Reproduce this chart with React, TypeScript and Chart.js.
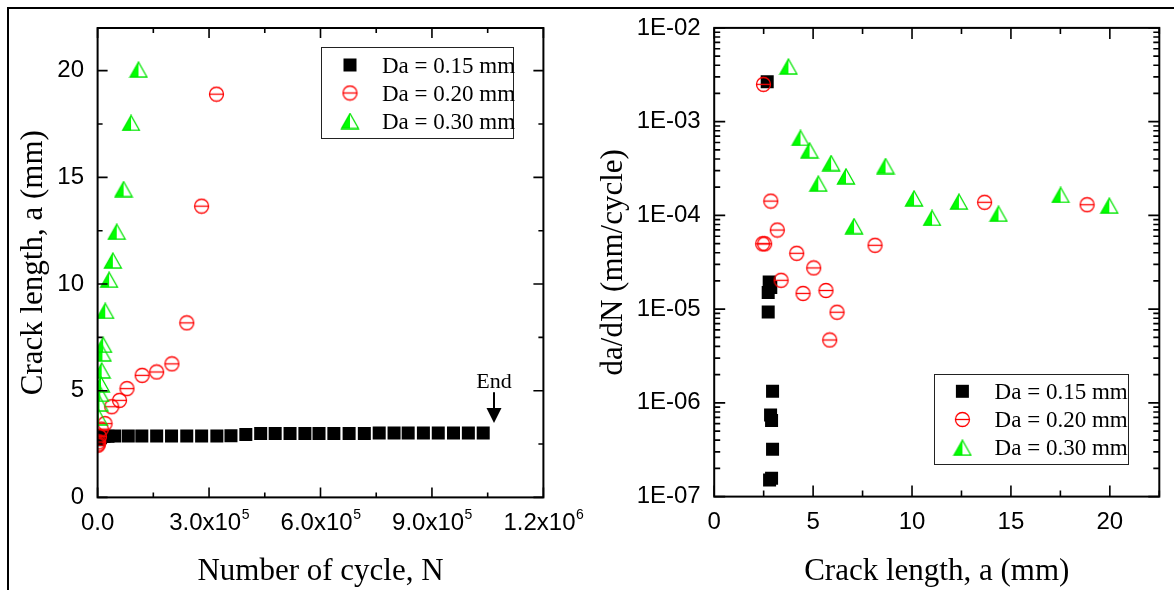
import React, { useEffect, useRef } from 'react';
import { Chart, registerables } from 'chart.js';

Chart.register(...registerables);

// ---------- Left panel: crack length a (mm) vs number of cycles N ----------
const leftCyclesDa015 = [2000, 8000, 17000, 28000, 46000, 82600, 119000, 159000, 199000, 240000, 280000, 321000, 359000, 399000, 439000, 478000, 518000, 558000, 596000, 636000, 677000, 718000, 758000, 798000, 836000, 877000, 917000, 958000, 998000, 1038000];
const leftCrackDa015 = [2.7, 2.8, 2.86, 2.87, 2.88, 2.88, 2.88, 2.88, 2.88, 2.88, 2.88, 2.88, 2.89, 2.95, 3.0, 3.0, 3.0, 3.0, 3.0, 3.0, 3.0, 3.0, 3.02, 3.02, 3.02, 3.02, 3.02, 3.02, 3.02, 3.02];

const leftCyclesDa020 = [1000, 2000, 3000, 5000, 10000, 20000, 38000, 59000, 79000, 120000, 159000, 200000, 240000, 280000, 320000];
const leftCrackDa020 = [2.45, 2.5, 2.6, 2.85, 3.2, 3.46, 4.25, 4.55, 5.1, 5.72, 5.88, 6.26, 8.18, 13.65, 18.9];

const leftCyclesDa030 = [3000, 5000, 7000, 9000, 11000, 13000, 15000, 20500, 31000, 41000, 51500, 70000, 90000, 110000];
const leftCrackDa030 = [3.75, 4.4, 4.85, 5.3, 5.95, 6.75, 7.15, 8.74, 10.2, 11.1, 12.45, 14.45, 17.55, 20.05];

// ---------- Right panel: da/dN (mm/cycle) vs crack length a (mm) ----------
const rightCrackDa015 = [2.68, 2.78, 2.86, 2.73, 2.73, 2.95, 2.85, 2.9, 2.95, 2.9, 2.8];
const rightRateDa015 = [2.67e-3, 1.95e-5, 1.7e-5, 1.5e-5, 9.3e-6, 1.33e-6, 7.4e-7, 6.5e-7, 3.2e-7, 1.57e-7, 1.5e-7];

const rightCrackDa020 = [2.49, 2.55, 2.45, 2.86, 3.19, 3.38, 4.17, 4.49, 5.03, 5.65, 5.84, 6.21, 8.13, 13.67, 18.85];
const rightRateDa020 = [2.5e-3, 4.98e-5, 4.98e-5, 1.42e-4, 6.98e-5, 2.03e-5, 3.94e-5, 1.47e-5, 2.75e-5, 1.58e-5, 4.69e-6, 9.27e-6, 4.8e-5, 1.38e-4, 1.3e-4];

const rightCrackDa030 = [3.75, 4.36, 4.82, 5.26, 5.91, 6.66, 7.07, 8.66, 10.1, 11.01, 12.37, 14.37, 17.51, 19.97];
const rightRateDa030 = [3.87e-3, 6.7e-4, 4.94e-4, 2.18e-4, 3.61e-4, 2.61e-4, 7.67e-5, 3.36e-4, 1.52e-4, 9.38e-5, 1.4e-4, 1.04e-4, 1.65e-4, 1.27e-4];

const seriesLabels = ['Da = 0.15 mm', 'Da = 0.20 mm', 'Da = 0.30 mm'];
const leftXTickBase = ['0.0', '3.0x10', '6.0x10', '9.0x10', '1.2x10'];
const leftXTickExp = ['', '5', '5', '5', '6'];
const leftYTickLabels = ['0', '5', '10', '15', '20'];
const rightXTickLabels = ['0', '5', '10', '15', '20'];
const endLabel = 'End';
const endCycles = 1.067e6;

const SANS = '"Liberation Sans", Arial, sans-serif';
const SERIF = '"Liberation Serif", "Times New Roman", serif';

function makeCircleStyle(): HTMLCanvasElement {
  const c = document.createElement('canvas');
  c.width = 17;
  c.height = 17;
  const g = c.getContext('2d')!;
  g.strokeStyle = '#ff0000';
  g.lineWidth = 1.3;
  g.beginPath();
  g.arc(8.5, 8.5, 7, 0, Math.PI * 2);
  g.stroke();
  g.beginPath();
  g.moveTo(1.5, 8.5);
  g.lineTo(15.5, 8.5);
  g.stroke();
  return c;
}

function makeTriangleStyle(): HTMLCanvasElement {
  const c = document.createElement('canvas');
  c.width = 20;
  c.height = 17;
  const g = c.getContext('2d')!;
  g.fillStyle = '#00ff00';
  g.beginPath();
  g.moveTo(10, 1);
  g.lineTo(1.5, 16);
  g.lineTo(10, 16);
  g.closePath();
  g.fill();
  g.strokeStyle = '#00e600';
  g.lineWidth = 1.3;
  g.beginPath();
  g.moveTo(10, 1);
  g.lineTo(1.5, 16);
  g.lineTo(18.5, 16);
  g.closePath();
  g.stroke();
  return c;
}

function isMultiple(v: number, step: number) {
  const k = Math.round(v / step);
  return Math.abs(v - k * step) < step * 1e-6;
}

function tickList(scale: any, majorStep: number) {
  if (scale.type === 'logarithmic') {
    const out: { value: number; major: boolean }[] = [];
    const lo = Math.floor(Math.log10(scale.min) + 1e-9);
    const hi = Math.ceil(Math.log10(scale.max) - 1e-9);
    for (let e = lo; e <= hi; e++) {
      for (let k = 1; k <= 9; k++) {
        const v = k * Math.pow(10, e);
        if (v >= scale.min * (1 - 1e-9) && v <= scale.max * (1 + 1e-9)) out.push({ value: v, major: k === 1 });
      }
    }
    return out;
  }
  return scale.ticks.map((t: any) => ({ value: t.value, major: isMultiple(t.value, majorStep) }));
}

const frameTicksPlugin = {
  id: 'frameTicks',
  afterDatasetsDraw(chart: any, _args: any, opts: any) {
    const { ctx, chartArea: a } = chart;
    const xs = chart.scales.x;
    const ys = chart.scales.y;
    ctx.save();
    ctx.strokeStyle = '#000';
    ctx.lineWidth = 1.6;
    ctx.beginPath();
    tickList(xs, opts.xMajor).forEach((t) => {
      const px = xs.getPixelForValue(t.value);
      const len = t.major ? opts.major : opts.minor;
      ctx.moveTo(px, a.bottom);
      ctx.lineTo(px, a.bottom - len);
      ctx.moveTo(px, a.top);
      ctx.lineTo(px, a.top + len);
    });
    tickList(ys, opts.yMajor).forEach((t) => {
      const py = ys.getPixelForValue(t.value);
      const len = t.major ? opts.major : opts.minor;
      ctx.moveTo(a.left, py);
      ctx.lineTo(a.left + len, py);
      ctx.moveTo(a.right, py);
      ctx.lineTo(a.right - len, py);
    });
    ctx.stroke();
    ctx.lineWidth = 2;
    ctx.strokeRect(a.left, a.top, a.right - a.left, a.bottom - a.top);
    ctx.restore();
  },
};

const legendBoxPlugin = {
  id: 'legendBox',
  afterDraw(chart: any, _args: any, opts: any) {
    const { ctx } = chart;
    const [bx, by, bw, bh] = opts.box;
    ctx.save();
    ctx.strokeStyle = '#222';
    ctx.lineWidth = 1;
    ctx.strokeRect(bx + 0.5, by + 0.5, bw, bh);
    ctx.font = `23px ${SERIF}`;
    ctx.textBaseline = 'alphabetic';
    ctx.textAlign = 'left';
    chart.data.datasets.forEach((ds: any, i: number) => {
      const y = opts.rows[i];
      const style = ds.pointStyle;
      if (style && typeof style === 'object') {
        ctx.drawImage(style, opts.markerX - style.width / 2, y - style.height / 2);
      } else {
        ctx.fillStyle = '#000';
        ctx.fillRect(opts.markerX - 6.5, y - 6.5, 13, 13);
      }
      ctx.fillStyle = '#000';
      ctx.fillText(ds.label, opts.textX, y + 7.5);
    });
    ctx.restore();
  },
};

const sciTicksPlugin = {
  id: 'sciTicks',
  afterDraw(chart: any, _args: any, opts: any) {
    if (!opts || !opts.enabled) return;
    const { ctx } = chart;
    const xs = chart.scales.x;
    ctx.save();
    ctx.fillStyle = '#000';
    ctx.textAlign = 'left';
    ctx.textBaseline = 'alphabetic';
    opts.base.forEach((b: string, i: number) => {
      const px = xs.getPixelForValue(i * opts.step);
      ctx.font = `24px ${SANS}`;
      const wb = ctx.measureText(b).width;
      ctx.font = `14px ${SANS}`;
      const we = opts.exp[i] ? ctx.measureText(opts.exp[i]).width : 0;
      const x0 = px - (wb + we) / 2;
      ctx.font = `24px ${SANS}`;
      ctx.fillText(b, x0, opts.baseline);
      if (opts.exp[i]) {
        ctx.font = `14px ${SANS}`;
        ctx.fillText(opts.exp[i], x0 + wb + 0.5, opts.baseline - 11);
      }
    });
    ctx.restore();
  },
};

const endArrowPlugin = {
  id: 'endArrow',
  afterDraw(chart: any, _args: any, opts: any) {
    if (!opts || !opts.enabled) return;
    const { ctx } = chart;
    const xs = chart.scales.x;
    const ys = chart.scales.y;
    const px = xs.getPixelForValue(opts.at);
    ctx.save();
    ctx.fillStyle = '#000';
    ctx.strokeStyle = '#000';
    ctx.font = `22px ${SERIF}`;
    ctx.textAlign = 'center';
    ctx.textBaseline = 'alphabetic';
    ctx.fillText(opts.text, px, ys.getPixelForValue(opts.textA));
    ctx.lineWidth = 2;
    ctx.beginPath();
    ctx.moveTo(px, ys.getPixelForValue(opts.lineTopA));
    ctx.lineTo(px, ys.getPixelForValue(opts.headBaseA) + 1);
    ctx.stroke();
    const hb = ys.getPixelForValue(opts.headBaseA);
    const tip = ys.getPixelForValue(opts.tipA);
    ctx.beginPath();
    ctx.moveTo(px - 7.5, hb);
    ctx.lineTo(px + 7.5, hb);
    ctx.lineTo(px, tip);
    ctx.closePath();
    ctx.fill();
    ctx.restore();
  },
};

function toPoints(xs: number[], ys: number[]) {
  return xs.map((x, i) => ({ x, y: ys[i] }));
}

function makeDatasets(circle: HTMLCanvasElement, tri: HTMLCanvasElement, xs: number[][], ys: number[][]) {
  return [
    {
      label: seriesLabels[0],
      data: toPoints(xs[0], ys[0]),
      pointStyle: 'rect',
      pointRadius: 9.2,
      pointBorderWidth: 0,
      backgroundColor: '#000',
      borderColor: '#000',
      showLine: false,
      order: 3,
    },
    {
      label: seriesLabels[1],
      data: toPoints(xs[1], ys[1]),
      pointStyle: circle,
      pointRadius: 7,
      backgroundColor: '#ff0000',
      borderColor: '#ff0000',
      showLine: false,
      order: 2,
    },
    {
      label: seriesLabels[2],
      data: toPoints(xs[2], ys[2]),
      pointStyle: tri,
      pointRadius: 7,
      backgroundColor: '#00ff00',
      borderColor: '#00ff00',
      showLine: false,
      order: 1,
    },
  ];
}

const tickFont = { family: SANS, size: 24 };
const titleFont = { family: SERIF, size: 31 };

export default function App() {
  const leftRef = useRef<HTMLCanvasElement>(null);
  const rightRef = useRef<HTMLCanvasElement>(null);

  useEffect(() => {
    const circle = makeCircleStyle();
    const tri = makeTriangleStyle();

    const left = new Chart(leftRef.current!, {
      type: 'scatter',
      data: {
        datasets: makeDatasets(
          circle,
          tri,
          [leftCyclesDa015, leftCyclesDa020, leftCyclesDa030],
          [leftCrackDa015, leftCrackDa020, leftCrackDa030]
        ) as any,
      },
      plugins: [frameTicksPlugin, legendBoxPlugin, sciTicksPlugin, endArrowPlugin],
      options: {
        responsive: false,
        animation: false,
        events: [],
        layout: { padding: { left: 8, right: 46.6, top: 27.1, bottom: 0 } },
        scales: {
          x: {
            type: 'linear',
            min: 0,
            max: 1.2e6,
            afterFit: (s: any) => {
              s.height = 92.6;
            },
            grid: { display: false, drawTicks: false },
            border: { display: false },
            ticks: {
              stepSize: 1.5e5,
              autoSkip: false,
              maxRotation: 0,
              minRotation: 0,
              padding: 11,
              color: '#000',
              font: tickFont,
              callback: () => '',
            },
            title: { display: true, text: 'Number of cycle, N', color: '#000', font: titleFont, padding: { top: 0, bottom: 0 } },
          },
          y: {
            type: 'linear',
            min: 0,
            max: 22,
            afterFit: (s: any) => {
              s.width = 89.6;
            },
            grid: { display: false, drawTicks: false },
            border: { display: false },
            ticks: {
              stepSize: 2.5,
              includeBounds: false,
              autoSkip: false,
              padding: 13.6,
              color: '#000',
              font: tickFont,
              callback: (value: any) => {
                const v = Number(value);
                return isMultiple(v, 5) ? leftYTickLabels[Math.round(v / 5)] : '';
              },
            },
            title: { display: true, text: 'Crack length, a (mm)', color: '#000', font: titleFont, padding: { top: 7, bottom: 0 } },
          },
        },
        plugins: {
          legend: { display: false },
          tooltip: { enabled: false },
          frameTicks: { major: 10, minor: 5, xMajor: 3e5, yMajor: 5 },
          legendBox: { box: [321, 47, 192, 91], markerX: 350, textX: 382, rows: [65, 93, 121] },
          sciTicks: { enabled: true, base: leftXTickBase, exp: leftXTickExp, step: 3e5, baseline: 530 },
          endArrow: { enabled: true, at: endCycles, text: endLabel, textA: 5.11, lineTopA: 4.93, headBaseA: 4.19, tipA: 3.49 },
        } as any,
      },
    } as any);

    const right = new Chart(rightRef.current!, {
      type: 'scatter',
      data: {
        datasets: makeDatasets(
          circle,
          tri,
          [rightCrackDa015, rightCrackDa020, rightCrackDa030],
          [rightRateDa015, rightRateDa020, rightRateDa030]
        ) as any,
      },
      plugins: [frameTicksPlugin, legendBoxPlugin],
      options: {
        responsive: false,
        animation: false,
        events: [],
        layout: { padding: { left: 2, right: 14.7, top: 27.1, bottom: 0 } },
        scales: {
          x: {
            type: 'linear',
            min: 0,
            max: 22.5,
            afterFit: (s: any) => {
              s.height = 93.4;
            },
            grid: { display: false, drawTicks: false },
            border: { display: false },
            ticks: {
              stepSize: 2.5,
              autoSkip: false,
              maxRotation: 0,
              minRotation: 0,
              padding: 11,
              color: '#000',
              font: tickFont,
              callback: (value: any) => {
                const v = Number(value);
                const k = Math.round(v / 5);
                return isMultiple(v, 5) && k < rightXTickLabels.length ? rightXTickLabels[k] : '';
              },
            },
            title: { display: true, text: 'Crack length, a (mm)', color: '#000', font: titleFont, padding: { top: 0, bottom: 0 } },
          },
          y: {
            type: 'logarithmic',
            min: 1e-7,
            max: 1e-2,
            afterFit: (s: any) => {
              s.width = 122.2;
            },
            grid: { display: false, drawTicks: false },
            border: { display: false },
            ticks: {
              autoSkip: false,
              padding: 13.5,
              color: '#000',
              font: tickFont,
              callback: (value: any) => {
                const v = Number(value);
                const e = Math.log10(v);
                const r = Math.round(e);
                if (Math.abs(e - r) > 1e-6) return '';
                return '1E-' + String(-r).padStart(2, '0');
              },
            },
            title: { display: true, text: 'da/dN (mm/cycle)', color: '#000', font: titleFont, padding: { top: 3, bottom: 0 } },
          },
        },
        plugins: {
          legend: { display: false },
          tooltip: { enabled: false },
          frameTicks: { major: 11, minor: 6, xMajor: 5, yMajor: 1 },
          legendBox: { box: [344, 374, 194, 90], markerX: 372.4, textX: 404.6, rows: [391.3, 419.5, 447.7] },
          sciTicks: { enabled: false },
          endArrow: { enabled: false },
        } as any,
      },
    } as any);

    return () => {
      left.destroy();
      right.destroy();
    };
  }, []);

  return (
    <div style={{ position: 'fixed', left: 0, top: 0, width: 1174, height: 590, background: '#fff', overflow: 'hidden' }}>
      <div
        style={{
          position: 'absolute',
          left: 7,
          top: 7,
          right: -10,
          bottom: -10,
          borderTop: '2px solid #000',
          borderLeft: '2px solid #000',
        }}
      />
      <canvas ref={leftRef} width={590} height={590} style={{ position: 'absolute', left: 0, top: 0, display: 'block' }} />
      <canvas ref={rightRef} width={584} height={590} style={{ position: 'absolute', left: 590, top: 0, display: 'block' }} />
    </div>
  );
}
